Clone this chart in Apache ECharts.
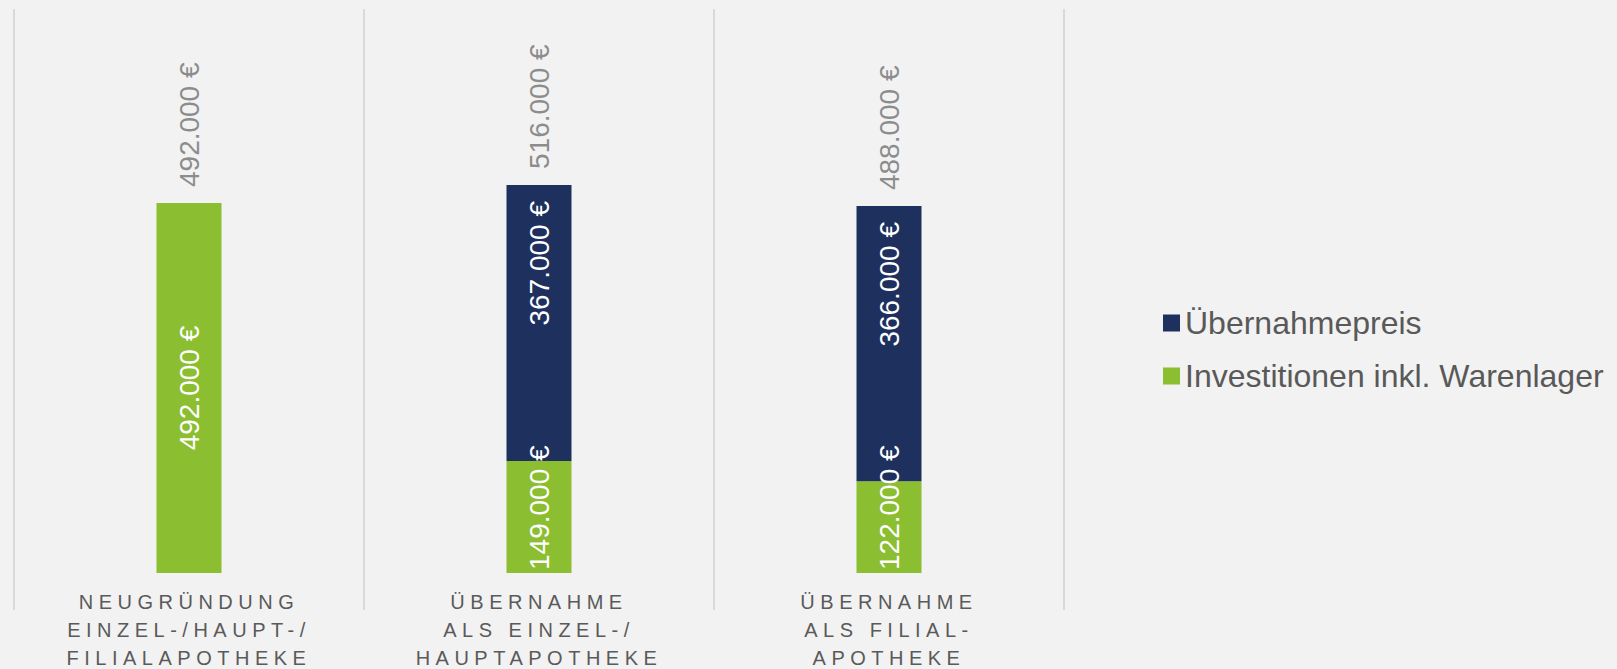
<!DOCTYPE html>
<html lang="de">
<head>
<meta charset="utf-8">
<title>Investitionen Apotheke</title>
<script src="https://cdn.jsdelivr.net/npm/echarts@6/dist/echarts.min.js"></script>
<style>
  html, body { margin: 0; padding: 0; background: #f2f2f2; }
  #chart { width: 1617px; height: 669px; }
  /* gesperrte Kategorie-Beschriftung */
  #chart text[fill="#5a5a5a"] { letter-spacing: 5.5px; }
</style>
</head>
<body>
<div id="chart"></div>
<script>
// Kategorien (x-Achse)
const categories = [
  'NEUGRÜNDUNG\nEINZEL-/HAUPT-/\nFILIALAPOTHEKE',
  'ÜBERNAHME\nALS EINZEL-/\nHAUPTAPOTHEKE',
  'ÜBERNAHME\nALS FILIAL-\nAPOTHEKE'
];
// Werte in Euro
const investitionen = [492000, 149000, 122000];
const uebernahmepreis = [null, 367000, 366000];
const gesamt = [492000, 516000, 488000];

const euro = (v) => String(v).replace(/\B(?=(\d{3})+(?!\d))/g, '.') + ' €';

const chart = echarts.init(document.getElementById('chart'), null, { renderer: 'svg' });

const font = '"Liberation Sans", Arial, sans-serif';
const sepStyle = { color: '#d9d9d9', width: 2 };

chart.setOption({
  backgroundColor: '#f2f2f2',
  animation: false,
  textStyle: { fontFamily: font },
  grid: { left: 14, right: 553, top: 9, bottom: 96, outerBoundsMode: 'none' },
  legend: {
    data: ['Übernahmepreis', 'Investitionen inkl. Warenlager'],
    orient: 'vertical',
    left: 1158,
    top: 302,
    icon: 'rect',
    itemWidth: 17,
    itemHeight: 17,
    itemGap: 21,
    textStyle: { fontSize: 32, lineHeight: 32, color: '#595959', fontFamily: font }
  },
  xAxis: {
    type: 'category',
    data: categories,
    axisLine: { show: false },
    axisTick: { show: true, length: 37, lineStyle: sepStyle },
    splitLine: { show: true, lineStyle: sepStyle },
    axisLabel: {
      interval: 0,
      margin: 15,
      fontSize: 20,
      lineHeight: 28,
      color: '#5a5a5a',
      fontFamily: font
    }
  },
  yAxis: { type: 'value', min: 0, max: 750000, show: false },
  series: [
    {
      name: 'Investitionen inkl. Warenlager',
      type: 'bar',
      stack: 'summe',
      barWidth: 65,
      barGap: '-100%',
      itemStyle: { color: '#8cbe31' },
      label: {
        show: true,
        position: 'insideBottom',
        distance: 3,
        rotate: 90,
        align: 'left',
        verticalAlign: 'middle',
        fontSize: 28,
        color: '#ffffff',
        fontFamily: font,
        formatter: (p) => euro(p.value)
      },
      // erste Säule: Beschriftung mittig
      data: investitionen.map((v, i) => i === 0
        ? { value: v, label: { position: 'inside', align: 'center' } }
        : v)
    },
    {
      name: 'Übernahmepreis',
      type: 'bar',
      stack: 'summe',
      barWidth: 65,
      barGap: '-100%',
      itemStyle: { color: '#1e305e' },
      label: {
        show: true,
        position: 'insideTop',
        distance: 16,
        rotate: 90,
        align: 'right',
        verticalAlign: 'middle',
        fontSize: 28,
        color: '#ffffff',
        fontFamily: font,
        formatter: (p) => euro(p.value)
      },
      data: uebernahmepreis
    },
    {
      // unsichtbare Säule nur für die Summe oben
      name: 'Gesamt',
      type: 'bar',
      barWidth: 65,
      barGap: '-100%',
      silent: true,
      itemStyle: { color: 'transparent' },
      label: {
        show: true,
        position: 'top',
        distance: 16,
        rotate: 90,
        align: 'left',
        verticalAlign: 'middle',
        fontSize: 28,
        color: '#8c8c8c',
        fontFamily: font,
        formatter: (p) => euro(p.value)
      },
      data: gesamt
    }
  ]
});

window.addEventListener('resize', () => chart.resize());
</script>
</body>
</html>
